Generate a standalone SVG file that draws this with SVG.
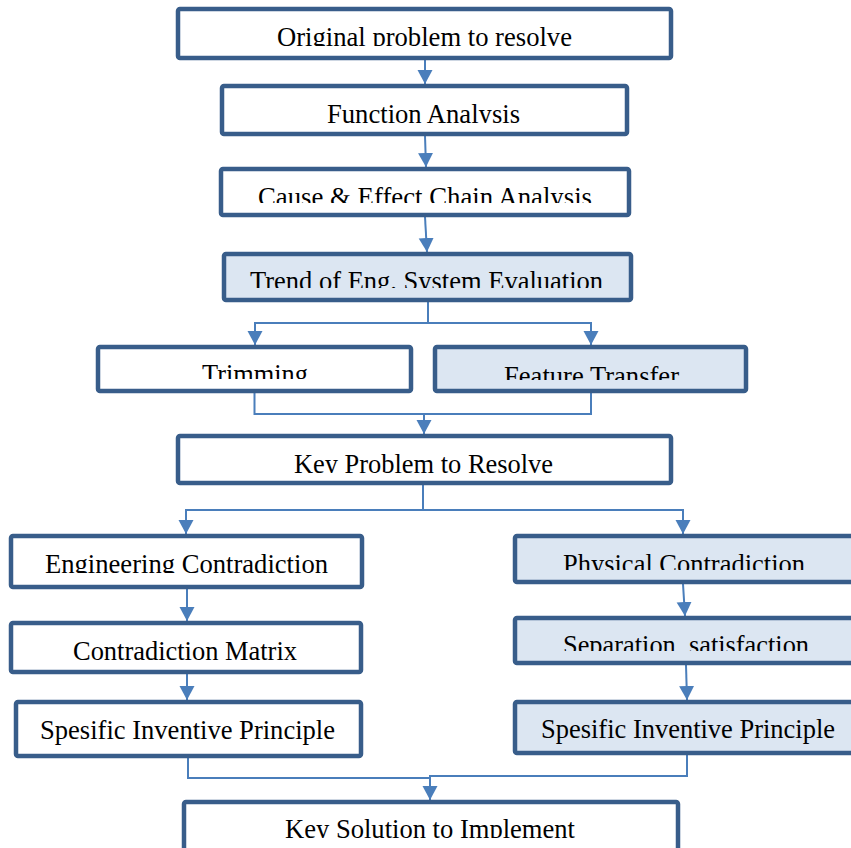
<svg xmlns="http://www.w3.org/2000/svg" width="851" height="848" viewBox="0 0 851 848">
<style>
.box{fill:#ffffff;stroke:#385d8a;stroke-width:4.5}
.hl{fill:#dce6f2}
.t{font-family:"Liberation Serif","Times New Roman",serif;font-size:27.5px;fill:#000;text-anchor:middle}
.c{fill:none;stroke:#4a7ebb;stroke-width:2}
</style>
<defs>
<marker id="ah" markerUnits="userSpaceOnUse" markerWidth="16" markerHeight="16" refX="14" refY="7.5" orient="auto">
<path d="M0,0 L14,7.5 L0,15 Z" fill="#4a7ebb"/>
</marker>
<clipPath id="k1"><rect x="178" y="9" width="493" height="37"/></clipPath>
<clipPath id="k2"><rect x="222" y="86" width="405" height="37"/></clipPath>
<clipPath id="k3"><rect x="221" y="169" width="408" height="34"/></clipPath>
<clipPath id="k4"><rect x="224" y="254" width="407" height="34"/></clipPath>
<clipPath id="k5"><rect x="98" y="347" width="313" height="32"/></clipPath>
<clipPath id="k6"><rect x="435" y="347" width="311" height="33"/></clipPath>
<clipPath id="k7"><rect x="178" y="436" width="493" height="37"/></clipPath>
<clipPath id="k8"><rect x="11" y="536" width="351" height="37"/></clipPath>
<clipPath id="k9"><rect x="515" y="536" width="340" height="34"/></clipPath>
<clipPath id="k11"><rect x="515" y="618" width="340" height="33"/></clipPath>
<clipPath id="k14"><rect x="184" y="802" width="494" height="36"/></clipPath>
</defs>

<g id="connectors">
<path class="c" d="M425,60 L425,84" marker-end="url(#ah)"/>
<path class="c" d="M425,136 L426,167" marker-end="url(#ah)"/>
<path class="c" d="M425,217 L427,252" marker-end="url(#ah)"/>
<path class="c" d="M428,302 V323 H255 V345" marker-end="url(#ah)"/>
<path class="c" d="M428,323 H591 V345" marker-end="url(#ah)"/>
<path class="c" d="M254.5,393 V414 H591 V393"/>
<path class="c" d="M424,414 V434" marker-end="url(#ah)"/>
<path class="c" d="M423,485 V510 H186 V534" marker-end="url(#ah)"/>
<path class="c" d="M423,510 H683 V534" marker-end="url(#ah)"/>
<path class="c" d="M187,589 V621" marker-end="url(#ah)"/>
<path class="c" d="M683,584 L685,616" marker-end="url(#ah)"/>
<path class="c" d="M187,674 V700" marker-end="url(#ah)"/>
<path class="c" d="M686,665 L687,700" marker-end="url(#ah)"/>
<path class="c" d="M188,758 V778 H430"/>
<path class="c" d="M687,755 V776 H430 V800" marker-end="url(#ah)"/>
</g>

<g id="n1"><rect class="box" x="178" y="9" width="493" height="49" rx="2"/>
<text class="t" x="424.5" y="45.5" textLength="295" lengthAdjust="spacingAndGlyphs" clip-path="url(#k1)">Original problem to resolve</text></g>
<g id="n2"><rect class="box" x="222" y="86" width="405" height="48" rx="2"/>
<text class="t" x="423.5" y="122.5" textLength="193" lengthAdjust="spacingAndGlyphs" clip-path="url(#k2)">Function Analysis</text></g>
<g id="n3"><rect class="box" x="221" y="169" width="408" height="46" rx="2"/>
<text class="t" x="425" y="205.5" textLength="334" lengthAdjust="spacingAndGlyphs" clip-path="url(#k3)">Cause &amp; Effect Chain Analysis</text></g>
<g id="n4"><rect class="box hl" x="224" y="254" width="407" height="46" rx="2"/>
<text class="t" x="426.5" y="289.5" textLength="353" lengthAdjust="spacingAndGlyphs" clip-path="url(#k4)">Trend of Eng. System Evaluation</text></g>
<g id="n5"><rect class="box" x="98" y="347" width="313" height="44" rx="2"/>
<text class="t" x="255" y="382.5" textLength="106" lengthAdjust="spacingAndGlyphs" clip-path="url(#k5)">Trimming</text></g>
<g id="n6"><rect class="box hl" x="435" y="347" width="311" height="44" rx="2"/>
<text class="t" x="591.5" y="384.5" textLength="175" lengthAdjust="spacingAndGlyphs" clip-path="url(#k6)">Feature Transfer</text></g>
<g id="n7"><rect class="box" x="178" y="436" width="493" height="47" rx="2"/>
<text class="t" x="423.5" y="472.5" textLength="259" lengthAdjust="spacingAndGlyphs" clip-path="url(#k7)">Key Problem to Resolve</text></g>
<g id="n8"><rect class="box" x="11" y="536" width="351" height="51" rx="2"/>
<text class="t" x="186.5" y="572.5" textLength="283" lengthAdjust="spacingAndGlyphs" clip-path="url(#k8)">Engineering Contradiction</text></g>
<g id="n9"><rect class="box hl" x="515" y="536" width="345" height="46" rx="2"/>
<text class="t" x="684" y="572.5" textLength="242" lengthAdjust="spacingAndGlyphs" clip-path="url(#k9)">Physical Contradiction</text></g>
<g id="n10"><rect class="box" x="11" y="623" width="350" height="49" rx="2"/>
<text class="t" x="185" y="659.5" textLength="224" lengthAdjust="spacingAndGlyphs">Contradiction Matrix</text></g>
<g id="n11"><rect class="box hl" x="515" y="618" width="345" height="45" rx="2"/>
<text class="t" x="686" y="653.5" textLength="246" lengthAdjust="spacingAndGlyphs" clip-path="url(#k11)">Separation, satisfaction</text></g>
<g id="n12"><rect class="box" x="16" y="702" width="345" height="54" rx="2"/>
<text class="t" x="187.5" y="738.5" textLength="295" lengthAdjust="spacingAndGlyphs">Spesific Inventive Principle</text></g>
<g id="n13"><rect class="box hl" x="515" y="702" width="345" height="51" rx="2"/>
<text class="t" x="688" y="738" textLength="294" lengthAdjust="spacingAndGlyphs">Spesific Inventive Principle</text></g>
<g id="n14"><rect class="box" x="184" y="802" width="494" height="60" rx="2"/>
<text class="t" x="430" y="837.5" textLength="290" lengthAdjust="spacingAndGlyphs" clip-path="url(#k14)">Key Solution to Implement</text></g>
</svg>
